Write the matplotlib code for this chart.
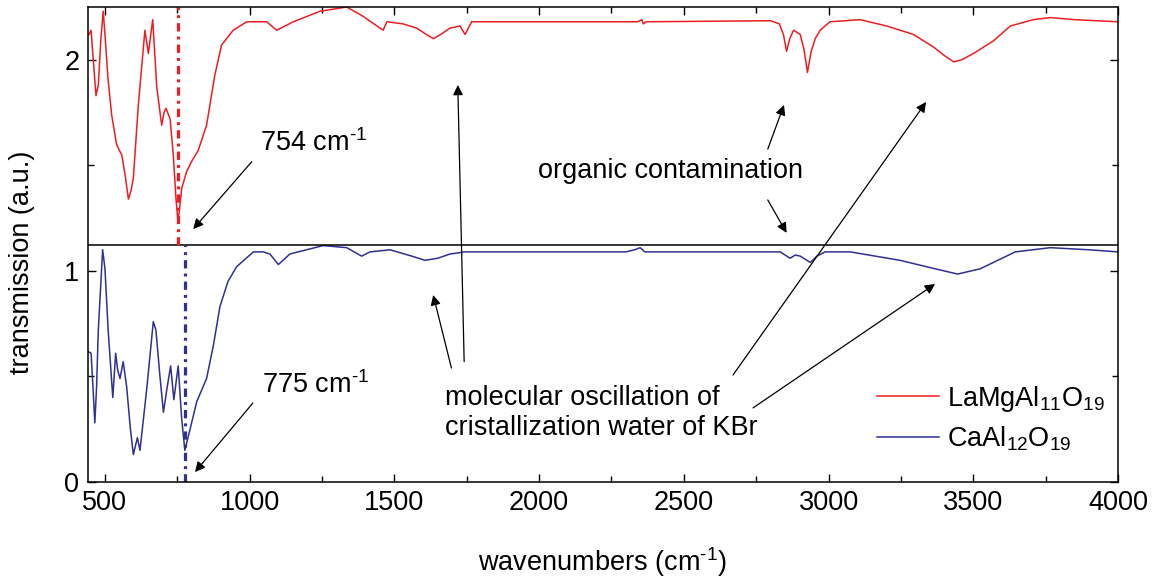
import matplotlib
matplotlib.use("Agg")
import matplotlib.pyplot as plt
import numpy as np

plt.rcParams['font.family'] = ['Liberation Sans', 'DejaVu Sans']
plt.rcParams['mathtext.fontset'] = 'custom'
plt.rcParams['mathtext.rm'] = 'Liberation Sans'
plt.rcParams['mathtext.it'] = 'Liberation Sans'

# ---- data ----
red_wn = [445, 452, 459, 469, 477, 486, 494, 500, 510, 523, 540, 550, 558, 570, 581, 590, 598,
          615, 638, 650, 665, 679, 696, 704, 711, 725, 736, 745, 751, 756, 765, 782, 800, 822,
          851, 880, 903, 943, 990, 1059, 1093, 1151, 1243, 1290, 1335, 1387, 1461, 1474, 1530,
          1577, 1610, 1635, 1660, 1692, 1727, 1744, 1767, 2000, 2340, 2355, 2360, 2370, 2800,
          2830, 2844, 2855, 2866, 2879, 2902, 2915, 2927, 2940, 2954, 2971, 3005, 3109, 3201,
          3293, 3363, 3400, 3432, 3460, 3501, 3570, 3628, 3707, 3766, 3850, 4000]
red_val = [2.12, 2.14, 2.01, 1.83, 1.88, 2.10, 2.23, 2.12, 1.92, 1.74, 1.60, 1.57, 1.55, 1.45,
           1.34, 1.38, 1.44, 1.78, 2.14, 2.03, 2.19, 1.87, 1.69, 1.75, 1.77, 1.72, 1.55, 1.35,
           1.25, 1.27, 1.39, 1.47, 1.52, 1.57, 1.69, 1.93, 2.07, 2.14, 2.18, 2.18, 2.14, 2.18,
           2.23, 2.24, 2.25, 2.21, 2.14, 2.18, 2.17, 2.15, 2.12, 2.10, 2.12, 2.15, 2.16, 2.12,
           2.18, 2.18, 2.18, 2.19, 2.17, 2.18, 2.185, 2.17, 2.12, 2.04, 2.10, 2.14, 2.12, 2.05,
           1.94, 2.04, 2.10, 2.14, 2.18, 2.19, 2.16, 2.12, 2.06, 2.02, 1.99, 2.00, 2.03, 2.09,
           2.16, 2.19, 2.20, 2.19, 2.18]

blue_wn = [440, 452, 457, 465, 471, 477, 492, 500, 511, 527, 537, 544, 552, 563, 575, 588, 598,
           612, 621, 645, 667, 676, 690, 702, 715, 727, 738, 753, 765, 776, 794, 817, 851, 875,
           897, 925, 955, 1013, 1047, 1070, 1099, 1139, 1254, 1335, 1387, 1416, 1485, 1560,
           1606, 1650, 1692, 1744, 2300, 2330, 2349, 2365, 2833, 2867, 2885, 2902, 2937, 2960,
           2988, 3075, 3247, 3368, 3446, 3524, 3645, 3766, 3900, 4000]
blue_val = [0.62, 0.61, 0.49, 0.28, 0.45, 0.72, 1.10, 1.01, 0.72, 0.40, 0.61, 0.53, 0.49, 0.57,
            0.45, 0.25, 0.13, 0.21, 0.15, 0.45, 0.76, 0.72, 0.50, 0.33, 0.45, 0.55, 0.39, 0.55,
            0.30, 0.15, 0.25, 0.38, 0.49, 0.65, 0.83, 0.95, 1.02, 1.09, 1.09, 1.08, 1.03, 1.08,
            1.12, 1.11, 1.07, 1.09, 1.10, 1.07, 1.05, 1.06, 1.08, 1.09, 1.09, 1.10, 1.11, 1.09,
            1.09, 1.06, 1.075, 1.07, 1.04, 1.07, 1.09, 1.09, 1.05, 1.01, 0.985, 1.01, 1.09,
            1.11, 1.10, 1.09]

labels = [r'LaMgAl$\mathregular{_{11}}$O$\mathregular{_{19}}$',
          r'CaAl$\mathregular{_{12}}$O$\mathregular{_{19}}$']
marker_wn = [754, 775]
separator = 1.125

RED = '#EE1D23'
BLUE = '#2E3192'
FS = 19.5
SUP = r'$\mathregular{^{\text{-}1}}$'

fig = plt.figure(figsize=(11.55, 5.8), dpi=100)
ax = fig.add_axes([87.6 / 1155, 1 - 482 / 580, (1118 - 87.6) / 1155, 475 / 580])

ax.plot(red_wn, red_val, color=RED, lw=1.1, label=labels[0])
ax.plot(blue_wn, blue_val, color=BLUE, lw=1.1, label=labels[1])
ax.axhline(separator, color='black', lw=1.1)

ax.plot([marker_wn[0], marker_wn[0]], [separator, 2.25], color=RED, lw=2.3,
        dashes=(2.6, 1.6, 0.9, 1.6))
ax.plot([marker_wn[1], marker_wn[1]], [0, separator], color=BLUE, lw=2.3,
        dashes=(2.6, 1.6, 0.9, 1.6))

ax.set_xlim(440, 4000)
ax.set_ylim(0, 2.25)
ax.set_xticks([500, 1000, 1500, 2000, 2500, 3000, 3500, 4000])
ax.set_xticks(np.arange(750, 4000, 500), minor=True)
ax.set_yticks([0, 1, 2])
ax.set_yticks([0.5, 1.5], minor=True)
ax.tick_params(which='both', direction='in', top=True, right=True, width=1.0,
               labelsize=FS)
ax.tick_params(which='major', length=5.5, pad=6)
ax.tick_params(which='minor', length=4.5)
for s in ax.spines.values():
    s.set_linewidth(1.1)

ax.set_xlabel('wavenumbers (cm' + SUP + ')', fontsize=FS, labelpad=21)
fig.text(22 / 1155, 1 - 262 / 580, 'transmission (a.u.)', rotation=90,
         ha='center', va='center', fontsize=FS)

arrow = dict(arrowstyle='-|>', color='black', lw=0.9, mutation_scale=15,
             shrinkA=0, shrinkB=0)

ax.text(1035, 1.569, '754 cm' + SUP, fontsize=FS, va='baseline')
ax.annotate('', xy=(805, 1.198), xytext=(1007, 1.517), arrowprops=arrow)
ax.text(1042, 0.422, '775 cm' + SUP, fontsize=FS, va='baseline')
ax.annotate('', xy=(811, 0.047), xytext=(1011, 0.374), arrowprops=arrow)

ax.text(1996, 1.439, 'organic contamination', fontsize=FS, va='baseline')
ax.annotate('', xy=(2846, 1.786), xytext=(2790, 1.577), arrowprops=arrow)
ax.annotate('', xy=(2855, 1.18), xytext=(2790, 1.336), arrowprops=arrow)

ax.text(1675, 0.365, 'molecular oscillation of', fontsize=FS, va='baseline')
ax.text(1675, 0.223, 'cristallization water of KBr', fontsize=FS, va='baseline')
ax.annotate('', xy=(1719, 1.881), xytext=(1741, 0.570), arrowprops=arrow)
ax.annotate('', xy=(1634, 0.886), xytext=(1697, 0.540), arrowprops=arrow)
ax.annotate('', xy=(3337, 1.80), xytext=(2670, 0.507), arrowprops=arrow)
ax.annotate('', xy=(3368, 0.938), xytext=(2739, 0.351), arrowprops=arrow)

ax.legend(loc='upper left', bbox_to_anchor=(0.766, 0.207), frameon=False,
          fontsize=FS, handlelength=2.3, handletextpad=0.3, labelspacing=0.4,
          borderpad=0, borderaxespad=0)

fig.savefig('out.png', dpi=100)
